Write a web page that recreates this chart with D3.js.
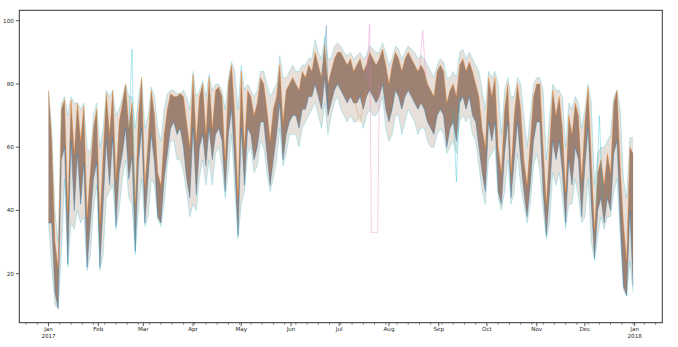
<!DOCTYPE html>
<html>
<head>
<meta charset="utf-8">
<script src="https://cdn.jsdelivr.net/npm/d3@7"></script>
<style>
  body { margin: 0; background: #fff; }
  text { font-family: "DejaVu Sans", sans-serif; }
</style>
</head>
<body>
<script>
// daily readings sampled every 2nd day of 2017 (day-of-year index)
const sampleDays = d3.range(0, 365, 2)

// dense core of the station lines: upper / lower edge
const coreHigh = [
  78, 62, 30, 22, 72, 75, 40, 75, 58, 74, 62, 73, 38, 52, 66, 72,
  36, 58, 77, 64, 78, 50, 68, 74, 80, 66, 74, 42, 70, 82,
  48, 62, 78, 70, 52, 48, 64, 72, 77, 76, 76, 77, 76, 68, 60,
  83, 62, 76, 80, 64, 82, 66, 78, 79, 76, 56, 80, 86, 70, 44,
  84, 60, 78, 76, 70, 74, 82, 80, 72, 62, 72, 76, 86, 68, 78, 80,
  82, 80, 78, 84, 82, 86, 84, 90, 86, 82, 92, 80, 84, 88, 90,
  90, 88, 86, 88, 84, 86, 88, 84, 86, 90, 88, 86, 88, 91, 86,
  80, 86, 90, 88, 84, 88, 90, 88, 86, 84, 86, 84, 80, 78, 76, 84,
  86, 84, 74, 78, 80, 76, 86, 88, 84, 87, 84, 80, 76, 66, 60,
  82, 76, 82, 60, 52, 72, 80, 52, 70, 80, 72, 56, 48, 62, 76,
  80, 80, 60, 42, 60, 78, 70, 76, 66, 46, 70, 64, 74, 70, 50,
  68, 79, 56, 34, 52, 56, 48, 58, 52, 74, 78, 54, 36, 24, 60, 58
]
const coreLow = [
  36, 36, 14, 9, 56, 60, 23, 62, 40, 58, 42, 55, 22, 36, 50, 55,
  22, 42, 62, 48, 63, 35, 52, 58, 66, 50, 57, 27, 55, 66,
  36, 50, 64, 55, 38, 36, 50, 58, 66, 68, 64, 66, 60, 50, 44,
  66, 45, 60, 64, 54, 66, 56, 64, 66, 62, 46, 64, 72, 54, 32,
  66, 48, 66, 64, 56, 60, 68, 68, 58, 48, 56, 64, 74, 56, 64, 68,
  70, 70, 66, 72, 72, 76, 76, 80, 76, 72, 82, 70, 74, 78, 80,
  78, 76, 74, 76, 74, 74, 76, 72, 76, 78, 76, 74, 76, 80, 72,
  68, 72, 78, 76, 72, 76, 78, 76, 74, 72, 74, 72, 68, 66, 64, 70,
  72, 70, 60, 66, 68, 62, 74, 76, 72, 76, 70, 68, 60, 52, 46,
  68, 62, 68, 46, 42, 58, 68, 44, 56, 68, 56, 46, 38, 48, 62,
  68, 68, 46, 32, 46, 62, 56, 62, 52, 36, 56, 48, 60, 56, 38,
  54, 66, 42, 25, 40, 44, 36, 44, 40, 58, 62, 36, 16, 13, 40, 16
]

// outermost station on each side
const outerHigh = [
  78, 66, 40, 30, 74, 76, 70, 76, 74, 74, 72, 74, 60, 58, 70, 74,
  60, 66, 78, 76, 78, 70, 72, 76, 80, 76, 76, 66, 76, 82,
  66, 70, 79, 76, 66, 62, 72, 77, 78, 78, 77, 77, 78, 76, 72,
  84, 76, 78, 81, 76, 83, 78, 80, 80, 78, 72, 82, 87, 84, 72,
  86, 78, 80, 78, 76, 78, 84, 84, 80, 76, 78, 80, 89, 82, 82, 84,
  86, 84, 84, 86, 86, 88, 88, 94, 90, 88, 95, 88, 88, 92, 93,
  92, 90, 89, 90, 88, 89, 90, 88, 89, 92, 91, 90, 90, 93, 90,
  86, 88, 92, 91, 88, 90, 92, 91, 90, 88, 89, 88, 86, 84, 82, 86,
  88, 87, 82, 82, 84, 82, 90, 91, 88, 90, 88, 86, 84, 78, 72,
  84, 82, 84, 80, 64, 78, 82, 76, 76, 82, 80, 70, 60, 70, 80,
  82, 82, 78, 56, 70, 80, 78, 78, 76, 60, 74, 72, 76, 74, 66,
  72, 80, 74, 48, 58, 60, 60, 62, 64, 76, 78, 72, 50, 44, 63, 63
]
const outerLow = [
  36, 22, 10, 9, 26, 50, 22, 36, 34, 40, 36, 38, 21, 26, 40, 48,
  21, 26, 44, 46, 48, 34, 40, 50, 56, 44, 42, 26, 40, 50,
  35, 38, 50, 48, 37, 35, 42, 54, 62, 62, 56, 56, 52, 46, 38,
  42, 40, 50, 56, 48, 56, 48, 58, 60, 54, 44, 52, 64, 46, 31,
  42, 46, 58, 60, 52, 54, 62, 60, 52, 46, 50, 56, 66, 54, 58, 64,
  64, 64, 60, 66, 68, 70, 72, 74, 70, 66, 74, 64, 70, 74, 76,
  72, 70, 68, 70, 68, 68, 70, 66, 70, 72, 70, 70, 72, 76, 66,
  62, 64, 70, 70, 64, 68, 72, 70, 68, 64, 66, 66, 62, 60, 60, 64,
  66, 64, 58, 60, 62, 58, 68, 70, 68, 70, 64, 62, 54, 46, 42,
  56, 58, 60, 44, 40, 46, 56, 42, 46, 58, 48, 42, 36, 42, 54,
  58, 52, 40, 31, 36, 52, 48, 52, 44, 34, 42, 42, 50, 44, 36,
  38, 50, 30, 24, 32, 38, 34, 38, 38, 46, 50, 32, 15, 13, 24, 14
]

// single stations that leave the band
const outliers = [
  { color: '#17becf', days: [50, 52, 54], values: [66, 91, 30] },
  { color: '#1f77b4', days: [170, 172, 173, 174], values: [82, 92, 98.4, 72] },
  { color: '#e377c2', days: [198, 200, 201, 202, 203, 204, 205, 206], values: [82, 98.8, 33, 33, 33, 33, 33, 80] },
  { color: '#ff7f0e', days: [190, 192, 194, 196, 198], values: [76, 72, 68, 74, 78] },
  { color: '#e377c2', days: [231, 233, 235], values: [84, 97, 82] },
  { color: '#17becf', days: [252, 254, 256], values: [72, 49, 76] },
  { color: '#17becf', days: [341, 343, 345], values: [42, 70, 44] }
]

const yTicks = [20, 40, 60, 80, 100]

const W = 678, H = 347
const margin = { top: 10.3, right: 15.7, bottom: 24.3, left: 19.3 }
const width = W - margin.left - margin.right
const height = H - margin.top - margin.bottom

const start = new Date(2017, 0, 1)
const dayDate = d => d3.timeDay.offset(start, d)
const first = dayDate(0), last = dayDate(364)
const padX = (last - first) * 0.05

const allVals = outerHigh.concat(outerLow, ...outliers.map(o => o.values))
const [vMin, vMax] = d3.extent(allVals)
const padY = (vMax - vMin) * 0.05

const svg = d3.select('body').append('svg')
  .attr('width', W)
  .attr('height', H)

const g = svg.append('g')
  .attr('transform', `translate(${margin.left},${margin.top})`)

const xScale = d3.scaleTime()
  .domain([new Date(+first - padX), new Date(+last + padX)])
  .range([0, width])
const yScale = d3.scaleLinear()
  .domain([vMin - padY, vMax + padY])
  .range([height, 0])

const band = sampleDays.map((d, i) => ({
  date: dayDate(d),
  hi: coreHigh[i], lo: coreLow[i],
  ohi: outerHigh[i], olo: outerLow[i]
}))

const area = (top, bottom) => d3.area()
  .x(d => xScale(d.date))
  .y0(d => yScale(d[bottom]))
  .y1(d => yScale(d[top]))

const edge = key => d3.line()
  .x(d => xScale(d.date))
  .y(d => yScale(d[key]))

const stroke = (key, color, opacity, w) => g.append('path')
  .datum(band)
  .attr('d', edge(key))
  .style('fill', 'none')
  .style('stroke', color)
  .style('stroke-opacity', opacity)
  .style('stroke-width', w)

// sparse outer region
g.append('path')
  .datum(band)
  .attr('d', area('ohi', 'olo'))
  .style('fill', '#c4b3a8')
  .style('fill-opacity', 0.42)
stroke('ohi', '#17becf', 0.3, 0.8)
stroke('olo', '#17becf', 0.3, 0.8)

// dense core
g.append('path')
  .datum(band)
  .attr('d', area('hi', 'lo'))
  .style('fill', '#8f7262')
  .style('fill-opacity', 0.85)
stroke('hi', '#ff7f0e', 0.35, 1)
stroke('lo', '#1f77b4', 0.35, 1)

const line = d3.line()
  .x(d => xScale(d.date))
  .y(d => yScale(d.v))

outliers.forEach(o => {
  g.append('path')
    .datum(o.days.map((d, i) => ({ date: dayDate(d), v: o.values[i] })))
    .attr('d', line)
    .style('fill', 'none')
    .style('stroke', o.color)
    .style('stroke-opacity', 0.35)
    .style('stroke-width', 1)
})

// frame
g.append('rect')
  .attr('width', width)
  .attr('height', height)
  .style('fill', 'none')
  .style('stroke', '#333')
  .style('stroke-width', 1)

// y axis
const yAxis = g.append('g')
yAxis.selectAll('line').data(yTicks).enter().append('line')
  .attr('x1', -3.5).attr('x2', 0)
  .attr('y1', d => yScale(d)).attr('y2', d => yScale(d))
  .style('stroke', '#333').style('stroke-width', 0.8)
yAxis.selectAll('text').data(yTicks).enter().append('text')
  .attr('x', -5.5)
  .attr('y', d => yScale(d))
  .attr('dy', '0.35em')
  .attr('text-anchor', 'end')
  .style('font-size', '5.6px')
  .style('fill', '#222')
  .text(d => d)

// x axis
const months = d3.timeMonth.range(start, new Date(2018, 0, 2))
const weeks = d3.timeSunday.range(xScale.domain()[0], xScale.domain()[1])
  .filter(w => w.getDate() !== 1)
const xAxis = g.append('g').attr('transform', `translate(0,${height})`)
xAxis.selectAll('.minor').data(weeks).enter().append('line')
  .attr('class', 'minor')
  .attr('x1', d => xScale(d)).attr('x2', d => xScale(d))
  .attr('y1', 0).attr('y2', 2)
  .style('stroke', '#333').style('stroke-width', 0.6)
xAxis.selectAll('.major').data(months).enter().append('line')
  .attr('class', 'major')
  .attr('x1', d => xScale(d)).attr('x2', d => xScale(d))
  .attr('y1', 0).attr('y2', 3.5)
  .style('stroke', '#333').style('stroke-width', 0.8)
const labels = xAxis.selectAll('text').data(months).enter().append('text')
  .attr('text-anchor', 'middle')
  .attr('transform', d => `translate(${xScale(d)},8.5)`)
  .style('font-size', '5.6px')
  .style('fill', '#222')
labels.append('tspan').attr('x', 0).text(d3.timeFormat('%b'))
labels.filter(d => d.getMonth() === 0).append('tspan')
  .attr('x', 0).attr('dy', 7)
  .text(d3.timeFormat('%Y'))
</script>
</body>
</html>
